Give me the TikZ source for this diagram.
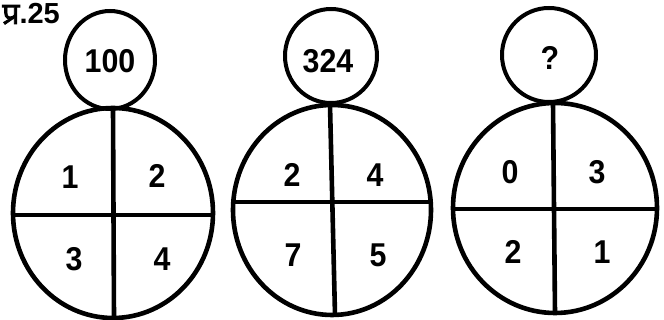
\documentclass[tikz,border=0pt]{standalone}
\usepackage{fontspec}
\setmainfont{Liberation Sans}
\newfontfamily\hindifont[Script=Devanagari, FakeBold=2.5, Scale=1.05]{Noto Sans}
\usetikzlibrary{calc}

\begin{document}
\begin{tikzpicture}[x=1pt,y=1pt,
    ring/.style={line width=4pt},
    bigring/.style={line width=4.6pt},
    cut/.style={line width=4.6pt},
    num/.style={font=\fontsize{33}{38}\selectfont\bfseries, inner sep=0pt, xscale=0.92}]
  \useasboundingbox (0,0) rectangle (664,320);

  % question number
  \node[anchor=base west, inner sep=0pt, font=\fontsize{29}{32}\selectfont\bfseries] (qno) at (2,296) {{\hindifont प्र}.25};

  % first figure
  \coordinate (S1) at (110,260);
  \coordinate (B1) at (113,107);
  \draw[ring] (S1) ellipse [x radius=45, y radius=49];
  \draw[bigring] (B1) ellipse [x radius=100, y radius=105];
  \draw[cut] ($(B1)+(-100,-2)$) -- ($(B1)+(100,-2)$);
  \draw[cut] ($(B1)+(0,105)$) -- ($(B1)+(1,-105)$);
  \node[num] (t1) at (110,259) {100};
  \node[num] (a1) at (70,143) {1};
  \node[num] (b1) at (157,144) {2};
  \node[num] (c1) at (74,61) {3};
  \node[num] (d1) at (162,61) {4};

  % second figure
  \coordinate (S2) at (331,264);
  \coordinate (B2) at (332,110);
  \draw[ring] (S2) ellipse [x radius=46, y radius=47];
  \draw[bigring] (B2) ellipse [x radius=99, y radius=105];
  \draw[cut] ($(B2)+(-99,8)$) -- ($(B2)+(99,8)$);
  \draw[cut] ($(B2)+(-2,105)$) -- ($(B2)+(3,-105)$);
  \node[num] (t2) at (328,259) {324};
  \node[num] (a2) at (292,145) {2};
  \node[num] (b2) at (375,145) {4};
  \node[num] (c2) at (293,65) {7};
  \node[num] (d2) at (378,65) {5};

  % third figure
  \coordinate (S3) at (549,265);
  \coordinate (B3) at (555,112);
  \draw[ring] (S3) ellipse [x radius=47, y radius=47];
  \draw[bigring] (B3) ellipse [x radius=102, y radius=105];
  \draw[cut] ($(B3)+(-102,-1)$) -- ($(B3)+(102,-1)$);
  \draw[cut] ($(B3)+(-2,105)$) -- ($(B3)+(0,-105)$);
  \node[num] (t3) at (550,262) {?};
  \node[num] (a3) at (510,148) {0};
  \node[num] (b3) at (597,148) {3};
  \node[num] (c3) at (513,68) {2};
  \node[num] (d3) at (602,68) {1};
\end{tikzpicture}
\end{document}
